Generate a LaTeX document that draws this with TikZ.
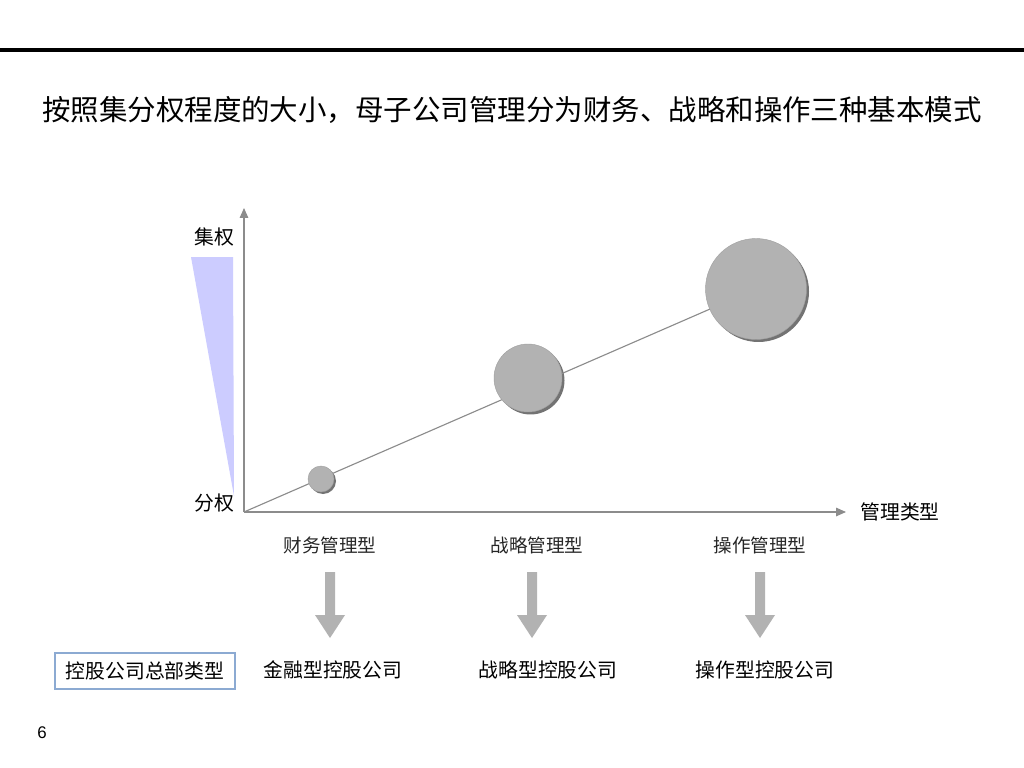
\documentclass[tikz,border=0pt]{standalone}
\usepackage{fontspec}
\setmainfont{Liberation Sans}
\newfontfamily\cjk{Noto Sans CJK SC}
\usetikzlibrary{arrows.meta}
\definecolor{axisgray}{RGB}{140,140,140}
\definecolor{ballgray}{RGB}{178,178,178}
\definecolor{tri}{RGB}{204,204,255}
\definecolor{boxblue}{RGB}{140,170,210}
\tikzset{
  axis/.style={draw=axisgray, line width=0.9pt, -{Triangle[length=7pt,width=6pt]}},
  ball/.style={circle, fill=ballgray, inner sep=0pt, draw=ballgray!90!black, line width=0.3pt},
  shadowball/.style={circle, fill=black!55, inner sep=0pt},
  lbl/.style={font=\cjk\fontsize{14.1}{16}\selectfont, inner sep=0pt},
  typelbl/.style={font=\cjk\fontsize{13.2}{15}\selectfont, text=black!85, inner sep=0pt},
  blockarrow/.style={fill=ballgray, draw=none},
}
\newcommand{\downblock}[2]{%
  \fill[blockarrow] (#1-5,572) -- (#1+5,572) -- (#1+5,615) -- (#1+15,615) -- (#1,638) -- (#1-15,615) -- (#1-5,615) -- cycle;
  \coordinate (#2) at (#1,605);}
\begin{document}
\begin{tikzpicture}[x=0.025cm,y=-0.025cm]
\useasboundingbox (0,0) rectangle (1024,768);
\fill[white] (0,0) rectangle (1024,768);
% top rule
\fill[black] (0,48) rectangle (1024,52.5);
% title
\node[font=\cjk\fontsize{20.25}{22}\selectfont, inner sep=0pt] (title) at (512,110) {按照集分权程度的大小，母子公司管理分为财务、战略和操作三种基本模式};
% axes
\coordinate (O) at (244,512);
\coordinate (ytop) at (244,208);
\coordinate (xend) at (846,512);
\draw[axis] (O) -- (ytop);
\draw[axis] (O) -- (xend);
% triangle
\fill[tri] (191,257) -- (233,257) -- (234,496) -- cycle;
% axis labels
\node[lbl] (high) at (214,237) {集权};
\node[lbl] (low) at (214,503) {分权};
\node[lbl] (xlab) at (900,512) {管理类型};
% circles with shadows
\node[shadowball, minimum size=26pt*0.711] at (323,481) {};
\node[shadowball, minimum size=68pt*0.711] at (530.5,380.5) {};
\node[shadowball, minimum size=101pt*0.711] at (758.5,291.5) {};
\coordinate (bigc) at (756,289);
\draw[axisgray, line width=0.8pt] (O) -- (bigc);
\node[ball, minimum size=26pt*0.711] (c1) at (321,479) {};
\node[ball, minimum size=68pt*0.711] (c2) at (528,378) {};
\node[ball, minimum size=101pt*0.711] (c3) at (756,289) {};
% type labels
\node[typelbl] (t1) at (330,545) {财务管理型};
\node[typelbl] (t2) at (537,545) {战略管理型};
\node[typelbl] (t3) at (760,545) {操作管理型};
% down arrows
\downblock{330}{a1}
\downblock{532}{a2}
\downblock{760}{a3}
% bottom labels
\node[lbl] (b1) at (333,670) {金融型控股公司};
\node[lbl] (b2) at (548,670) {战略型控股公司};
\node[lbl] (b3) at (765,670) {操作型控股公司};
\node[lbl, draw=boxblue, line width=0.8pt, minimum width=4.5cm, minimum height=0.9cm] (hq) at (145,671) {控股公司总部类型};
% page number
\node[font=\fontsize{12}{14}\selectfont, inner sep=0pt] (pg) at (42,733) {6};
\end{tikzpicture}
\end{document}
